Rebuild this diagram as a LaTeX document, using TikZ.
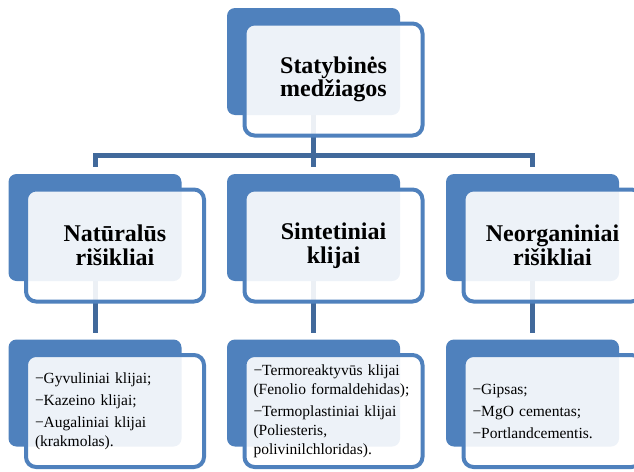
\documentclass[tikz,border=0pt]{standalone}
\usepackage{fontspec}
\setmainfont{Liberation Serif}
\usetikzlibrary{backgrounds}
\definecolor{boxblue}{HTML}{4F81BD}
\definecolor{linkblue}{HTML}{41699B}
\tikzset{
  back/.style={fill=boxblue, rounded corners=8pt, minimum width=173pt,
    minimum height=107pt, inner sep=0pt},
  front/.style={draw=boxblue, line width=4pt, fill=white, fill opacity=0.9,
    text opacity=1, rounded corners=10pt, minimum width=178pt,
    minimum height=112pt, inner sep=0pt},
  head/.style={front, align=center, font=\fontsize{24}{23.5}\selectfont\bfseries},
  list/.style={front, align=left, text width=160pt,
    font=\fontsize{15.5}{19}\selectfont},
  link/.style={draw=linkblue, line width=5pt},
}
\begin{document}
\begin{tikzpicture}[x=1pt, y=-1pt]
  \useasboundingbox (0,0) rectangle (634,471);
  % top
  \node[back] (top-b) at (313.5,61.5) {};
  \node[head] (top) at ([shift={(20,18)}]top-b.center) {Statybinės\\medžiagos};
  % second row
  \node[back] (nat-b) at (95,227.5) {};
  \node[head] (nat) at ([shift={(20,18)}]nat-b.center) {Natūralūs\\rišikliai};
  \node[back] (syn-b) at (313.5,227.5) {};
  \node[head] (syn) at ([shift={(20,18)}]syn-b.center) {Sintetiniai\\klijai};
  \node[back] (neo-b) at (532.5,227.5) {};
  \node[head] (neo) at ([shift={(20,18)}]neo-b.center) {Neorganiniai\\rišikliai};
  % third row
  \node[back] (natl-b) at (95,393) {};
  \node[list] (natl) at ([shift={(20,18)}]natl-b.center)
    {−Gyvuliniai klijai;\\[3pt]−Kazeino klijai;\\[3pt]−Augaliniai klijai\\(krakmolas).};
  \node[back] (synl-b) at (313.5,393) {};
  \node[list] (synl) at ([shift={(20,18)}]synl-b.center)
    {−Termoreaktyvūs klijai\\(Fenolio formaldehidas);\\[3pt]−Termoplastiniai klijai\\(Poliesteris,\\polivinilchloridas).};
  \node[back] (neol-b) at (532.5,393) {};
  \node[list] (neol) at ([shift={(20,18)}]neol-b.center)
    {−Gipsas;\\[3pt]−MgO cementas;\\[3pt]−Portlandcementis.};
  \coordinate (bus) at (313.5,155);
  \begin{scope}[on background layer]
    \draw[link] (top-b.south) -- ([yshift=7pt]syn-b.north);
    \draw[link] ([yshift=7pt]nat-b.north) |- (bus) -| ([yshift=7pt]neo-b.north);
    \draw[link] (nat-b.south) -- ([yshift=6pt]natl-b.north);
    \draw[link] (syn-b.south) -- ([yshift=6pt]synl-b.north);
    \draw[link] (neo-b.south) -- ([yshift=6pt]neol-b.north);
  \end{scope}
\end{tikzpicture}
\end{document}
